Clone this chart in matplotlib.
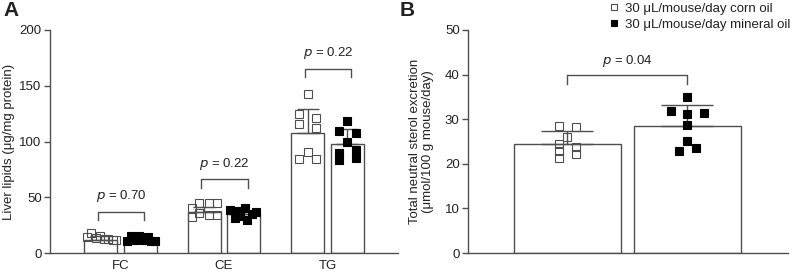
"""Liver lipids (A) and faecal neutral sterol excretion (B), corn oil vs mineral oil."""

import matplotlib

matplotlib.use("Agg")
import matplotlib.pyplot as plt  # noqa: E402
from matplotlib.lines import Line2D  # noqa: E402

plt.rcParams["font.family"] = ["Liberation Sans", "DejaVu Sans"]
plt.rcParams["font.size"] = 9.5

# --- panel A data -----------------------------------------------------------
lipids = ["FC", "CE", "TG"]
corn_lipid_mean = [12, 37, 107.5]
corn_lipid_sd = [3, 4, 22]
mineral_lipid_mean = [12, 35, 97.5]
mineral_lipid_sd = [2, 3, 13.5]
corn_lipid_pts = [
    [14.5, 17.5, 13.5, 15.0, 12.5, 13.0, 11.5, 12.0],
    [40.0, 45.0, 44.5, 45.0, 32.6, 35.6, 34.0, 34.0],
    [142.3, 124.7, 115.7, 121.0, 112.0, 84.3, 90.6, 84.3],
]
mineral_lipid_pts = [
    [11.0, 15.0, 12.0, 15.0, 12.0, 14.5, 11.0, 11.0],
    [39.0, 38.0, 40.0, 37.0, 33.0, 30.0, 31.0, 35.0],
    [118.4, 109.4, 107.6, 99.6, 92.4, 89.7, 85.2, 83.4],
]
lipid_p = ["0.70", "0.22", "0.22"]
lipid_bracket_y = [37, 66, 165]

# --- panel B data -----------------------------------------------------------
corn_sterol_mean = 24.4
corn_sterol_sd = 3.0
mineral_sterol_mean = 28.5
mineral_sterol_sd = 4.6
corn_sterol_pts = [28.5, 28.2, 26.1, 24.4, 23.8, 22.9, 22.3, 21.4]
mineral_sterol_pts = [35.0, 31.9, 31.1, 31.3, 28.7, 25.2, 23.6, 22.9]
sterol_p = "0.04"
sterol_bracket_y = 40

# horizontal jitter of the dots (in dot widths)
corn_lipid_dx = [
    [-1.6, -1.2, -0.6, -0.1, 0.4, 0.9, 1.4, 1.8],
    [-1.5, -0.6, 0.5, 1.5, -1.5, -0.6, 0.5, 1.5],
    [0, -1, -1, 1, 1, -1, 0, 1],
]
mineral_lipid_dx = [
    [-1.6, -1.1, -0.6, -0.1, 0.4, 0.9, 1.3, 1.8],
    [-1.6, -0.8, 0.2, 1.4, -0.4, 0.4, -1.0, 1.0],
    [0, -1, 1, 0, 1, -1, 1, -1],
]
corn_sterol_dx = [-1, 1, 0, -1, 1, -1, 1, -1]
mineral_sterol_dx = [0, -2, 0, 2, 0, 0, 1, -1]

LINE = "#4f4f4f"
TEXT = "#222222"
MS = 5.2


def style_axis(ax):
    for side in ("top", "right"):
        ax.spines[side].set_visible(False)
    for side in ("left", "bottom"):
        ax.spines[side].set_color(LINE)
        ax.spines[side].set_linewidth(1.0)
    ax.tick_params(axis="y", direction="out", length=4, width=1.0, color=LINE,
                   labelcolor=TEXT, pad=2, labelsize=9.5)
    ax.tick_params(axis="x", length=0, labelcolor=TEXT, pad=5, labelsize=9.5)


def draw_group(ax, x, mean, sd, pts, dx, step, filled, cap):
    ax.bar(x, mean, width=bar_w[ax], color="white", edgecolor=LINE, linewidth=1.0, zorder=1)
    ax.errorbar(x, mean, yerr=[[0], [sd]], fmt="none", ecolor=LINE, elinewidth=1.0,
                capsize=cap, capthick=1.0, zorder=2)
    ax.plot([x + d * step for d in dx], pts, linestyle="none", marker="s", markersize=MS,
            markerfacecolor="black" if filled else "none", markeredgecolor="black" if filled else LINE,
            markeredgewidth=0.8, zorder=3)


def bracket(ax, x0, x1, y, drop, label, text_gap):
    ax.plot([x0, x0, x1, x1], [y - drop, y, y, y - drop], color=LINE, linewidth=1.0)
    ax.text((x0 + x1) / 2, y + text_gap, "$p$ = " + label, ha="center", va="bottom",
            color=TEXT, fontsize=9.5)


fig = plt.figure(figsize=(7.96, 2.74), dpi=100)
ax_a = fig.add_axes([50 / 796, 21 / 274, 348 / 796, 223 / 274])
ax_b = fig.add_axes([468 / 796, 21 / 274, 320 / 796, 223 / 274])
bar_w = {ax_a: 0.32, ax_b: 0.89}

# panel A
off = 0.19
for i in range(len(lipids)):
    draw_group(ax_a, i - off, corn_lipid_mean[i], corn_lipid_sd[i], corn_lipid_pts[i],
               corn_lipid_dx[i], 0.082, False, 8)
    draw_group(ax_a, i + off, mineral_lipid_mean[i], mineral_lipid_sd[i], mineral_lipid_pts[i],
               mineral_lipid_dx[i], 0.082, True, 8)
    bracket(ax_a, i - 0.22, i + 0.23, lipid_bracket_y[i], 7.5, lipid_p[i], 7)
ax_a.set_xlim(-0.68, 2.68)
ax_a.set_ylim(0, 200)
ax_a.set_yticks([0, 50, 100, 150, 200])
ax_a.set_xticks(range(len(lipids)))
ax_a.set_xticklabels(lipids)
ax_a.set_ylabel("Liver lipids (μg/mg protein)", color=TEXT, fontsize=9.5, labelpad=3)
style_axis(ax_a)

# panel B
draw_group(ax_b, 0, corn_sterol_mean, corn_sterol_sd, corn_sterol_pts, corn_sterol_dx,
           0.069, False, 19)
draw_group(ax_b, 1, mineral_sterol_mean, mineral_sterol_sd, mineral_sterol_pts,
           mineral_sterol_dx, 0.069, True, 19)
bracket(ax_b, 0, 1, sterol_bracket_y, 2, sterol_p, 1.2)
ax_b.set_xlim(-0.83, 1.84)
ax_b.set_ylim(0, 50)
ax_b.set_yticks([0, 10, 20, 30, 40, 50])
ax_b.set_xticks([])
ax_b.set_ylabel("Total neutral sterol excretion\n(μmol/100 g mouse/day)", color=TEXT,
                fontsize=9.5, labelpad=8, linespacing=1.05)
style_axis(ax_b)

fig.text(0.004, 0.995, "A", fontsize=15, fontweight="bold", va="top", color=TEXT)
fig.text(400 / 796, 0.995, "B", fontsize=15, fontweight="bold", va="top", color=TEXT)

handles = [
    Line2D([], [], linestyle="none", marker="s", markersize=4.6, markerfacecolor="none",
           markeredgecolor=LINE, markeredgewidth=0.8),
    Line2D([], [], linestyle="none", marker="s", markersize=4.6, markerfacecolor="black",
           markeredgecolor="black", markeredgewidth=0.8),
]
fig.legend(handles, ["30 μL/mouse/day corn oil", "30 μL/mouse/day mineral oil"],
           loc="upper right", bbox_to_anchor=(1.004, 1.025), frameon=False, fontsize=9.5,
           handlelength=0.7, handletextpad=0.45, labelspacing=0.3, borderpad=0.2,
           labelcolor=TEXT)

fig.savefig("out.png", dpi=100)
